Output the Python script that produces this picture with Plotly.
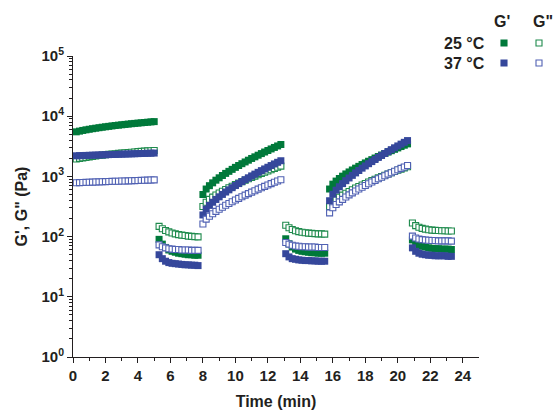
import plotly.graph_objects as go

# Time points (min) for each test interval
t_seg1 = [0.2, 0.4, 0.6, 0.8, 1.0, 1.2, 1.4, 1.6, 1.8, 2.0, 2.2, 2.4, 2.6, 2.8, 3.0, 3.2, 3.4, 3.6, 3.8, 4.0, 4.2, 4.4, 4.6, 4.8, 5.0]
t_seg2 = [5.3, 5.5, 5.7, 5.9, 6.1, 6.3, 6.5, 6.7, 6.9, 7.1, 7.3, 7.5, 7.7]
t_seg3 = [8.0, 8.2, 8.4, 8.6, 8.8, 9.0, 9.2, 9.4, 9.6, 9.8, 10.0, 10.2, 10.4, 10.6, 10.8, 11.0, 11.2, 11.4, 11.6, 11.8, 12.0, 12.2, 12.4, 12.6, 12.8]
t_seg4 = [13.1, 13.3, 13.5, 13.7, 13.9, 14.1, 14.3, 14.5, 14.7, 14.9, 15.1, 15.3, 15.5]
t_seg5 = [15.8, 16.0, 16.2, 16.4, 16.6, 16.8, 17.0, 17.2, 17.4, 17.6, 17.8, 18.0, 18.2, 18.4, 18.6, 18.8, 19.0, 19.2, 19.4, 19.6, 19.8, 20.0, 20.2, 20.4, 20.6]
t_seg6 = [20.9, 21.1, 21.3, 21.5, 21.7, 21.9, 22.1, 22.3, 22.5, 22.7, 22.9, 23.1, 23.3]

# 25 °C storage modulus G' (Pa)
g1_25 = [5500, 5650, 5800, 5940, 6070, 6200, 6320, 6440, 6560, 6670, 6780, 6890, 7000, 7100, 7200, 7300, 7400, 7500, 7590, 7680, 7770, 7860, 7950, 8040, 8130]
g1_25 += [90, 75, 66, 60, 57, 55, 53, 52, 51, 50, 50, 49, 49]
g1_25 += [500, 617, 701, 782, 865, 948, 1035, 1122, 1213, 1309, 1413, 1517, 1626, 1738, 1858, 1986, 2113, 2249, 2393, 2541, 2692, 2858, 3027, 3206, 3388]
g1_25 += [92, 76, 67, 62, 59, 57, 56, 55, 54, 54, 53, 53, 53]
g1_25 += [617, 743, 836, 923, 1009, 1099, 1186, 1279, 1371, 1469, 1574, 1675, 1786, 1897, 2018, 2138, 2265, 2399, 2535, 2673, 2818, 2972, 3133, 3296, 3467]
g1_25 += [88, 78, 72, 69, 67, 65, 64, 63, 63, 62, 62, 62, 61]

# 25 °C loss modulus G'' (Pa)
g2_25 = [1950, 1990, 2030, 2070, 2110, 2150, 2185, 2220, 2255, 2290, 2320, 2350, 2380, 2410, 2440, 2470, 2500, 2525, 2550, 2575, 2600, 2625, 2650, 2675, 2700]
g2_25 += [148, 135, 126, 120, 115, 111, 108, 106, 104, 102, 101, 100, 99]
g2_25 += [316, 373, 415, 453, 491, 530, 568, 607, 646, 687, 729, 773, 818, 863, 912, 959, 1012, 1064, 1117, 1172, 1230, 1288, 1349, 1416, 1479]
g2_25 += [154, 140, 131, 125, 121, 118, 116, 114, 113, 112, 111, 111, 110]
g2_25 += [316, 372, 413, 451, 488, 525, 562, 601, 640, 679, 721, 762, 807, 851, 897, 944, 993, 1045, 1096, 1148, 1205, 1262, 1321, 1384, 1445]
g2_25 += [168, 152, 143, 137, 133, 130, 128, 127, 126, 125, 125, 124, 124]

# 37 °C storage modulus G' (Pa)
g1_37 = [2200, 2210, 2220, 2230, 2240, 2250, 2260, 2270, 2280, 2290, 2300, 2310, 2320, 2330, 2340, 2350, 2360, 2370, 2380, 2390, 2400, 2410, 2420, 2430, 2440]
g1_37 += [50, 43, 39, 37, 36, 35.5, 35, 34.5, 34, 34, 33.5, 33.5, 33]
g1_37 += [229, 286, 330, 372, 414, 458, 502, 550, 598, 650, 705, 760, 820, 883, 948, 1019, 1091, 1167, 1247, 1330, 1419, 1514, 1611, 1714, 1820]
g1_37 += [52, 46, 43, 42, 41, 40.5, 40, 40, 39.5, 39.5, 39, 39, 39]
g1_37 += [394, 505, 590, 673, 759, 849, 942, 1040, 1143, 1253, 1371, 1493, 1626, 1762, 1910, 2065, 2228, 2404, 2588, 2780, 2985, 3206, 3436, 3681, 3936]
g1_37 += [65, 57, 53, 51, 50, 49, 49, 48, 48, 48, 48, 47, 47]

# 37 °C loss modulus G'' (Pa)
g2_37 = [785, 789, 793, 797, 800, 804, 808, 811, 815, 819, 822, 826, 830, 833, 837, 840, 844, 848, 851, 855, 859, 862, 866, 870, 875]
g2_37 += [73, 68, 65, 63, 62, 61, 61, 60, 60, 60, 59, 59, 59]
g2_37 += [162, 195, 218, 240, 262, 285, 308, 331, 355, 380, 406, 432, 460, 488, 518, 548, 579, 614, 647, 682, 719, 759, 798, 839, 881]
g2_37 += [80, 75, 72, 70, 69, 68, 68, 67, 67, 67, 66, 66, 66]
g2_37 += [248, 302, 341, 378, 416, 454, 493, 532, 573, 617, 661, 708, 755, 805, 859, 912, 968, 1028, 1089, 1153, 1219, 1288, 1361, 1436, 1514]
g2_37 += [102, 95, 91, 89, 88, 87, 86, 86, 85, 85, 85, 85, 84]

time = t_seg1 + t_seg2 + t_seg3 + t_seg4 + t_seg5 + t_seg6

x_ticks = list(range(0, 25, 2))
x_minor = list(range(1, 25, 2))
y_ticks = [1, 10, 100, 1000, 10000, 100000]
y_ticktext = ["10<sup>0</sup>", "10<sup>1</sup>", "10<sup>2</sup>", "10<sup>3</sup>", "10<sup>4</sup>", "10<sup>5</sup>"]
y_minor = [m * 10 ** e for e in range(0, 5) for m in range(2, 10)]

GREEN = "#00793A"
GREEN_OPEN = "#1E8A4C"
BLUE = "#35479B"
BLUE_OPEN = "#5061B3"
INK = "#231F20"
FONT = "Liberation Sans, Arial, sans-serif"

fig = go.Figure()

series = [
    ("25 °C G'", g1_25, dict(symbol="square", size=7, color=GREEN, line=dict(width=0))),
    ("25 °C G\"", g2_25, dict(symbol="square", size=6, color="white", line=dict(width=1.1, color=GREEN_OPEN))),
    ("37 °C G'", g1_37, dict(symbol="square", size=7, color=BLUE, line=dict(width=0))),
    ("37 °C G\"", g2_37, dict(symbol="square", size=6, color="white", line=dict(width=1.1, color=BLUE_OPEN))),
]
for name, vals, marker in series:
    fig.add_trace(go.Scatter(x=time, y=vals, mode="markers", name=name,
                             marker=marker, showlegend=False))

# Plot-area geometry in pixels, used to place the hand-built legend
W, H = 556, 410
L_M, R_M, T_M, B_M = 73, 77, 56, 53
PW, PH = W - L_M - R_M, H - T_M - B_M


def px(x):
    return (x - L_M) / PW


def py(y):
    return (H - B_M - y) / PH


legend_font = dict(family=FONT, size=16, color=INK, weight="bold")
annotations = [
    dict(text="G'", x=px(502), y=py(21), xanchor="center", yanchor="middle"),
    dict(text="G\"", x=px(543), y=py(21), xanchor="center", yanchor="middle"),
    dict(text="25 °C", x=px(487), y=py(43), xanchor="right", yanchor="middle"),
    dict(text="37 °C", x=px(487), y=py(63), xanchor="right", yanchor="middle"),
]
for a in annotations:
    a.update(xref="paper", yref="paper", showarrow=False, font=legend_font)

shapes = []
legend_marks = [
    (504, 43, GREEN, GREEN), (539, 43, "white", GREEN_OPEN),
    (504, 63, BLUE, BLUE), (539, 63, "white", BLUE_OPEN),
]
for cx, cy, fill, edge in legend_marks:
    shapes.append(dict(type="rect", xref="paper", yref="paper",
                       xsizemode="pixel", ysizemode="pixel",
                       xanchor=px(cx), yanchor=py(cy),
                       x0=-3, x1=3, y0=-3, y1=3,
                       fillcolor=fill, line=dict(color=edge, width=1.1)))

tick_font = dict(family=FONT, size=15, color=INK, weight="bold")
title_font = dict(family=FONT, size=16, color=INK, weight="bold")

fig.update_layout(
    width=W, height=H,
    margin=dict(l=L_M, r=R_M, t=T_M, b=B_M),
    paper_bgcolor="white", plot_bgcolor="white",
    annotations=annotations, shapes=shapes,
    xaxis=dict(range=[0, 25], tickmode="array", tickvals=x_ticks,
               ticks="outside", ticklen=5, tickwidth=1, tickcolor=INK,
               showline=True, linecolor=INK, linewidth=1, automargin=False,
               showgrid=False, zeroline=False, tickfont=tick_font,
               minor=dict(tickmode="array", tickvals=x_minor, ticks="outside",
                          ticklen=3, tickcolor=INK, showgrid=False),
               title=dict(text="Time (min)", font=title_font, standoff=16)),
    yaxis=dict(type="log", range=[0, 5], tickmode="array", tickvals=y_ticks,
               ticktext=y_ticktext,
               ticks="outside", ticklen=5, tickwidth=1, tickcolor=INK,
               showline=True, linecolor=INK, linewidth=1, automargin=False,
               showgrid=False, zeroline=False, tickfont=tick_font,
               minor=dict(tickmode="array", tickvals=y_minor, ticks="outside",
                          ticklen=3, tickcolor=INK, showgrid=False),
               title=dict(text="G', G\" (Pa)", font=title_font, standoff=9)),
)

fig.write_html("out.html")
